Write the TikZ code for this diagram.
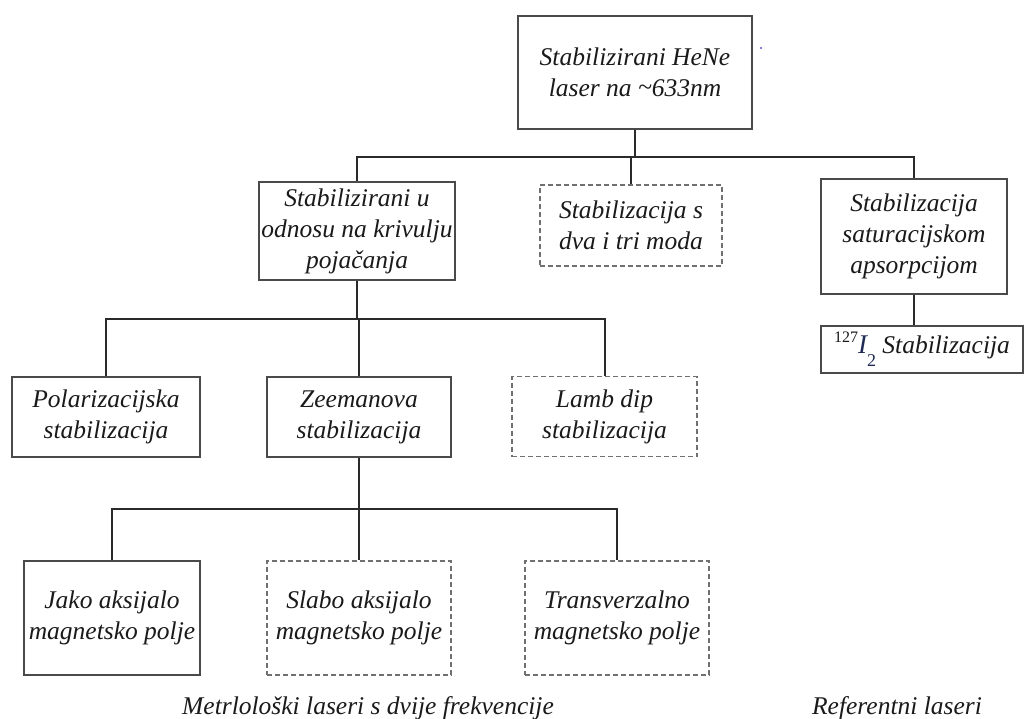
\documentclass[tikz,border=0pt]{standalone}
\usepackage{fontspec}
\setmainfont{Liberation Serif}
\definecolor{boxline}{HTML}{4A4A4A}
\definecolor{connline}{HTML}{2A2A2A}
\definecolor{dashline}{HTML}{707070}
\definecolor{txt}{HTML}{1A1A1A}
\definecolor{iodine}{HTML}{1F2A55}
\tikzset{
  lbl/.style={font=\fontsize{25.5}{31}\selectfont\itshape, text=txt, align=center, inner sep=0pt},
  solidbox/.style={lbl, draw=boxline, line width=1.8pt, fill=white},
  dashbox/.style={lbl, draw=dashline, line width=1.6pt, dash pattern=on 5pt off 3pt, fill=white},
  conn/.style={draw=connline, line width=2pt},
  caption/.style={font=\fontsize{25.5}{31}\selectfont\itshape, text=txt, inner sep=0pt, anchor=base}
}
\begin{document}
\begin{tikzpicture}[x=1pt,y=-1pt]
\useasboundingbox[fill=white] (0,0) rectangle (1025,718);

% level 0
\node[solidbox, minimum width=234pt, minimum height=113pt] (top) at (635,72.5) {Stabilizirani HeNe\\laser na \raisebox{0.1ex}{\textasciitilde}633nm};
\fill[blue!70!black] (761,48) circle (0.8pt);

% level 1
\node[solidbox, minimum width=196pt, minimum height=98pt] (gain) at (357,231) {Stabilizirani u\\odnosu na krivulju\\pojačanja};
\node[dashbox, minimum width=182pt, minimum height=81pt] (modes) at (631,225.5) {Stabilizacija s\\dva i tri moda};
\node[solidbox, minimum width=186pt, minimum height=115pt] (sat) at (914,236.5) {Stabilizacija\\saturacijskom\\apsorpcijom};
\node[solidbox, minimum width=202pt, minimum height=47pt] (iod) at (922,349.5) {\raisebox{0.9ex}{\upshape\fontsize{16}{16}\selectfont 127}\textcolor{iodine}{\fontsize{27}{27}\selectfont I\raisebox{-1.1ex}{\upshape\fontsize{18}{18}\selectfont 2}} Stabilizacija};

% level 2
\node[solidbox, minimum width=188pt, minimum height=80pt] (pol) at (106,417) {Polarizacijska\\stabilizacija};
\node[solidbox, minimum width=184pt, minimum height=80pt] (zee) at (359,417) {Zeemanova\\stabilizacija};
\node[dashbox, minimum width=185pt, minimum height=80pt] (lamb) at (604.5,416.5) {Lamb dip\\stabilizacija};

% level 3
\node[solidbox, minimum width=176pt, minimum height=114pt] (jako) at (112,618) {Jako aksijalo\\magnetsko polje};
\node[dashbox, minimum width=184pt, minimum height=114pt] (slabo) at (359,618) {Slabo aksijalo\\magnetsko polje};
\node[dashbox, minimum width=184pt, minimum height=114pt] (trans) at (617,618) {Transverzalno\\magnetsko polje};

% junctions
\coordinate (j1) at (635,157);
\coordinate (j2) at (359,319);
\coordinate (j3) at (359,509);

% connectors level 0 -> 1
\draw[conn] (top.south) -- (j1);
\draw[conn] (gain.north) |- (sat.north |- j1) -- (sat.north);
\draw[conn] (modes.north |- j1) -- (modes.north);
\draw[conn] (sat.south) -- (sat.south |- iod.north);

% connectors level 1 -> 2
\draw[conn] (gain.south) -- (gain.south |- j2);
\draw[conn] (pol.north) |- (lamb.north |- j2) -- (lamb.north);
\draw[conn] (zee.north |- j2) -- (zee.north);

% connectors level 2 -> 3
\draw[conn] (zee.south) -- (slabo.north);
\draw[conn] (jako.north) |- (trans.north |- j3) -- (trans.north);

% captions
\node[caption] (cap1) at (368,714) {Metrlološki laseri s dvije frekvencije};
\node[caption] (cap2) at (897,714) {Referentni laseri};
\end{tikzpicture}
\end{document}
